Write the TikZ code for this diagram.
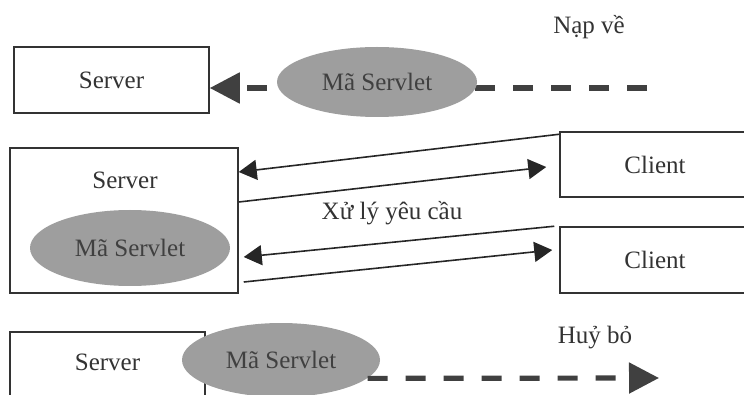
\documentclass[tikz,border=0pt]{standalone}
\usepackage{fontspec}
\setmainfont{Liberation Serif}
\usetikzlibrary{positioning,calc,shapes.geometric,arrows.meta}

\begin{document}
\begin{tikzpicture}[x=0.5pt, y=-0.5pt, font=\fontsize{12.5}{15}\selectfont]

    %
    % Styles for boxes, servlet code and flows
    %
    \tikzstyle{box} = [draw=black!80, line width=0.75pt, rectangle, inner sep=0pt,
                       minimum width=97.5pt, minimum height=33pt, text=black!80]
    \tikzstyle{code} = [ellipse, fill=black!38, inner sep=0pt, text=black!75,
                        minimum width=100pt, minimum height=36pt]
    \tikzstyle{dashFlow} = [black!75, line width=2.6pt, dash pattern=on 10pt off 9pt,
                            -{Triangle[length=15pt,width=15pt]}]
    \tikzstyle{reqFlow} = [black!85, line width=0.8pt, -{Triangle[length=9pt,width=10pt]}]
    \tikzstyle{flowLabel} = [text=black!80, inner sep=1pt]

    \clip (0,0) rectangle (744,395);

    %
    % Loading the servlet
    %
    \node[box, name=srvTop] at (111.5,80) {Server};
    \coordinate (loadStart) at (647,88);
    \draw[dashFlow] (loadStart) -- ($(srvTop.east)+(0,8)$);
    \node[code, name=codeTop, minimum height=35pt] at (377,82) {Mã Servlet};
    \node[flowLabel, name=loadLbl] at (589,27) {Nạp về};

    %
    % Handling requests
    %
    \node[box, name=srvMid, minimum width=114pt, minimum height=72.5pt] at (124,220.5) {};
    \node[flowLabel, name=srvMidLbl] at (125,180) {Server};
    \node[code, name=codeMid, minimum height=38pt] at (130,248) {Mã Servlet};
    \node[box, name=cliA, minimum width=95pt, minimum height=32.5pt] at (655,164.5) {Client};
    \node[box, name=cliB, minimum width=95pt, minimum height=33pt] at (655,260) {Client};

    \draw[reqFlow] ($(cliA.north west)+(0,3)$) -- ($(srvMid.east)+(0,-48.5)$);
    \draw[reqFlow] ($(srvMid.east)+(0,-18.5)$) -- ($(cliA.west)+(-13,2.5)$);
    \draw[reqFlow] ($(cliB.north west)+(-5,0)$) -- ($(srvMid.east)+(5,36.5)$);
    \draw[reqFlow] ($(srvMid.east)+(5,61.5)$) -- ($(cliB.west)+(-7,-10)$);
    \node[flowLabel, name=reqLbl] at (392,213) {Xử lý yêu cầu};

    %
    % Unloading the servlet
    %
    \node[box, name=srvBot, minimum height=48pt] at (107.5,380) {};
    \node[flowLabel, name=srvBotLbl] at (107.5,362) {Server};
    \node[code, name=codeBot, minimum width=99pt, minimum height=37pt] at (281,360) {Mã Servlet};
    \coordinate (dropEnd) at (659,378);
    \draw[dashFlow] (codeBot.-12) -- (dropEnd);
    \node[flowLabel, name=dropLbl] at (595,338) {Huỷ bỏ};

\end{tikzpicture}
\end{document}
